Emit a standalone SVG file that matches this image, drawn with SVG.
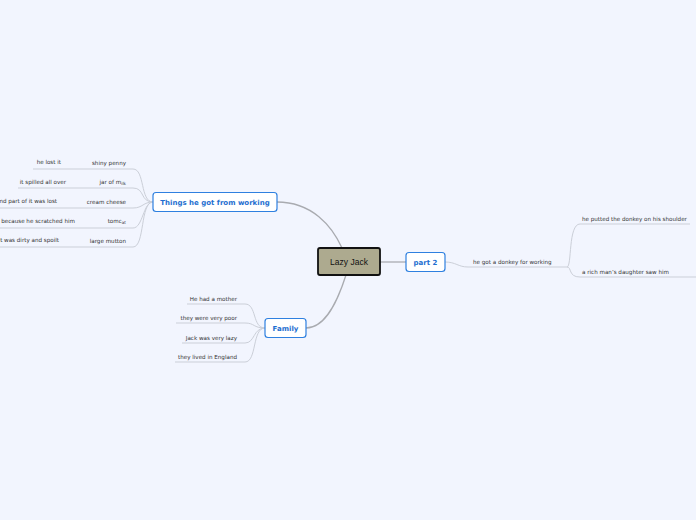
<svg xmlns="http://www.w3.org/2000/svg" width="696" height="520" viewBox="0 0 696 520">
<style>
.leaf{font-family:"DejaVu Sans",Verdana,sans-serif;font-size:5.6px;fill:#333;}
.lr{text-anchor:end;}
.main{fill:#fff;stroke:#2f80e0;stroke-width:1.2;}
.mt{font-family:"DejaVu Sans",Verdana,sans-serif;font-size:7px;font-weight:bold;fill:#1e6fd0;text-anchor:middle;}
.ll{fill:none;stroke:#cbcfd8;stroke-width:1;}
.ml{fill:none;stroke:#a9abb0;stroke-width:1.3;}
</style>
<rect width="696" height="520" fill="#f2f5fe"/>
<g id="connectors">
<path class="ml" d="M277,202 C312,202 332,226 342,248"/>
<path class="ml" d="M306,328 C326,328 338,300 346,275"/>
<path class="ml" d="M380,262 L406,262"/>
<path class="ll" d="M153,202 C140,202 145,169 133,169 L33,169"/>
<path class="ll" d="M153,202 C140,202 145,188 133,188 L18,188"/>
<path class="ll" d="M153,202 C143,202 143,208 133,208 L0,208"/>
<path class="ll" d="M153,202 C143,202 143,228 133,228 L0,228"/>
<path class="ll" d="M153,202 C140,202 145,247 133,247 L0,247"/>
<path class="ll" d="M265,328 C252,328 257,304 245,304 L187,304"/>
<path class="ll" d="M265,328 C253,328 255,323 245,323 L176,323"/>
<path class="ll" d="M265,328 C253,328 255,343 245,343 L182,343"/>
<path class="ll" d="M265,328 C252,328 257,362 245,362 L175,362"/>
<path class="ll" d="M445,262 C456,262 458,267 468,267 L567,267"/>
<path class="ll" d="M567,267 C572,267 568,224 580,224 L690,224"/>
<path class="ll" d="M567,267 C572,267 568,277 580,277 L696,277"/>
</g>
<g id="lazy-jack">
<rect x="318" y="248" width="62" height="27" rx="2" fill="#adaa8f" stroke="#111" stroke-width="1.8"/>
<text x="349" y="264.5" font-family="'Liberation Sans',Arial,sans-serif" font-size="8.5" fill="#111" text-anchor="middle">Lazy Jack</text>
</g>
<g id="things">
<rect class="main" x="153" y="192.5" width="124" height="19" rx="3"/>
<text class="mt" x="215" y="204.5">Things he got from working</text>
</g>
<g id="family">
<rect class="main" x="265" y="318.5" width="41" height="19" rx="3"/>
<text class="mt" x="285.5" y="330.5">Family</text>
</g>
<g id="part2">
<rect class="main" x="406" y="252.5" width="39" height="19" rx="3"/>
<text class="mt" x="425.5" y="264.5">part 2</text>
</g>
<g id="shiny-penny"><text class="leaf lr" x="126" y="165">shiny penny</text></g>
<g id="he-lost-it"><text class="leaf lr" x="61" y="164">he lost it</text></g>
<g id="jar-of-milk"><text class="leaf lr" x="126" y="184">jar of m<tspan font-size="4.2" dy="1">ilk</tspan></text></g>
<g id="it-spilled"><text class="leaf lr" x="66" y="184">it spilled all over</text></g>
<g id="cream-cheese"><text class="leaf lr" x="126" y="204">cream cheese</text></g>
<g id="part-lost"><text class="leaf lr" x="57" y="203">nd part of it was lost</text></g>
<g id="tomcat"><text class="leaf lr" x="126" y="223">tomc<tspan font-size="4.2" dy="1">at</tspan></text></g>
<g id="scratched"><text class="leaf lr" x="75" y="223">n because he scratched him</text></g>
<g id="large-mutton"><text class="leaf lr" x="126" y="243">large mutton</text></g>
<g id="dirty"><text class="leaf lr" x="59" y="242">it was dirty and spoilt</text></g>
<g id="mother"><text class="leaf lr" x="237" y="301">He had a mother</text></g>
<g id="poor"><text class="leaf lr" x="237" y="320">they were very poor</text></g>
<g id="lazy"><text class="leaf lr" x="237" y="340">Jack was very lazy</text></g>
<g id="england"><text class="leaf lr" x="237" y="359">they lived in England</text></g>
<g id="donkey"><text class="leaf" x="473" y="264">he got a donkey for working</text></g>
<g id="shoulder"><text class="leaf" x="582" y="221">he putted the donkey on his shoulder</text></g>
<g id="daughter"><text class="leaf" x="582" y="274">a rich man’s daughter saw him</text></g>
</svg>
